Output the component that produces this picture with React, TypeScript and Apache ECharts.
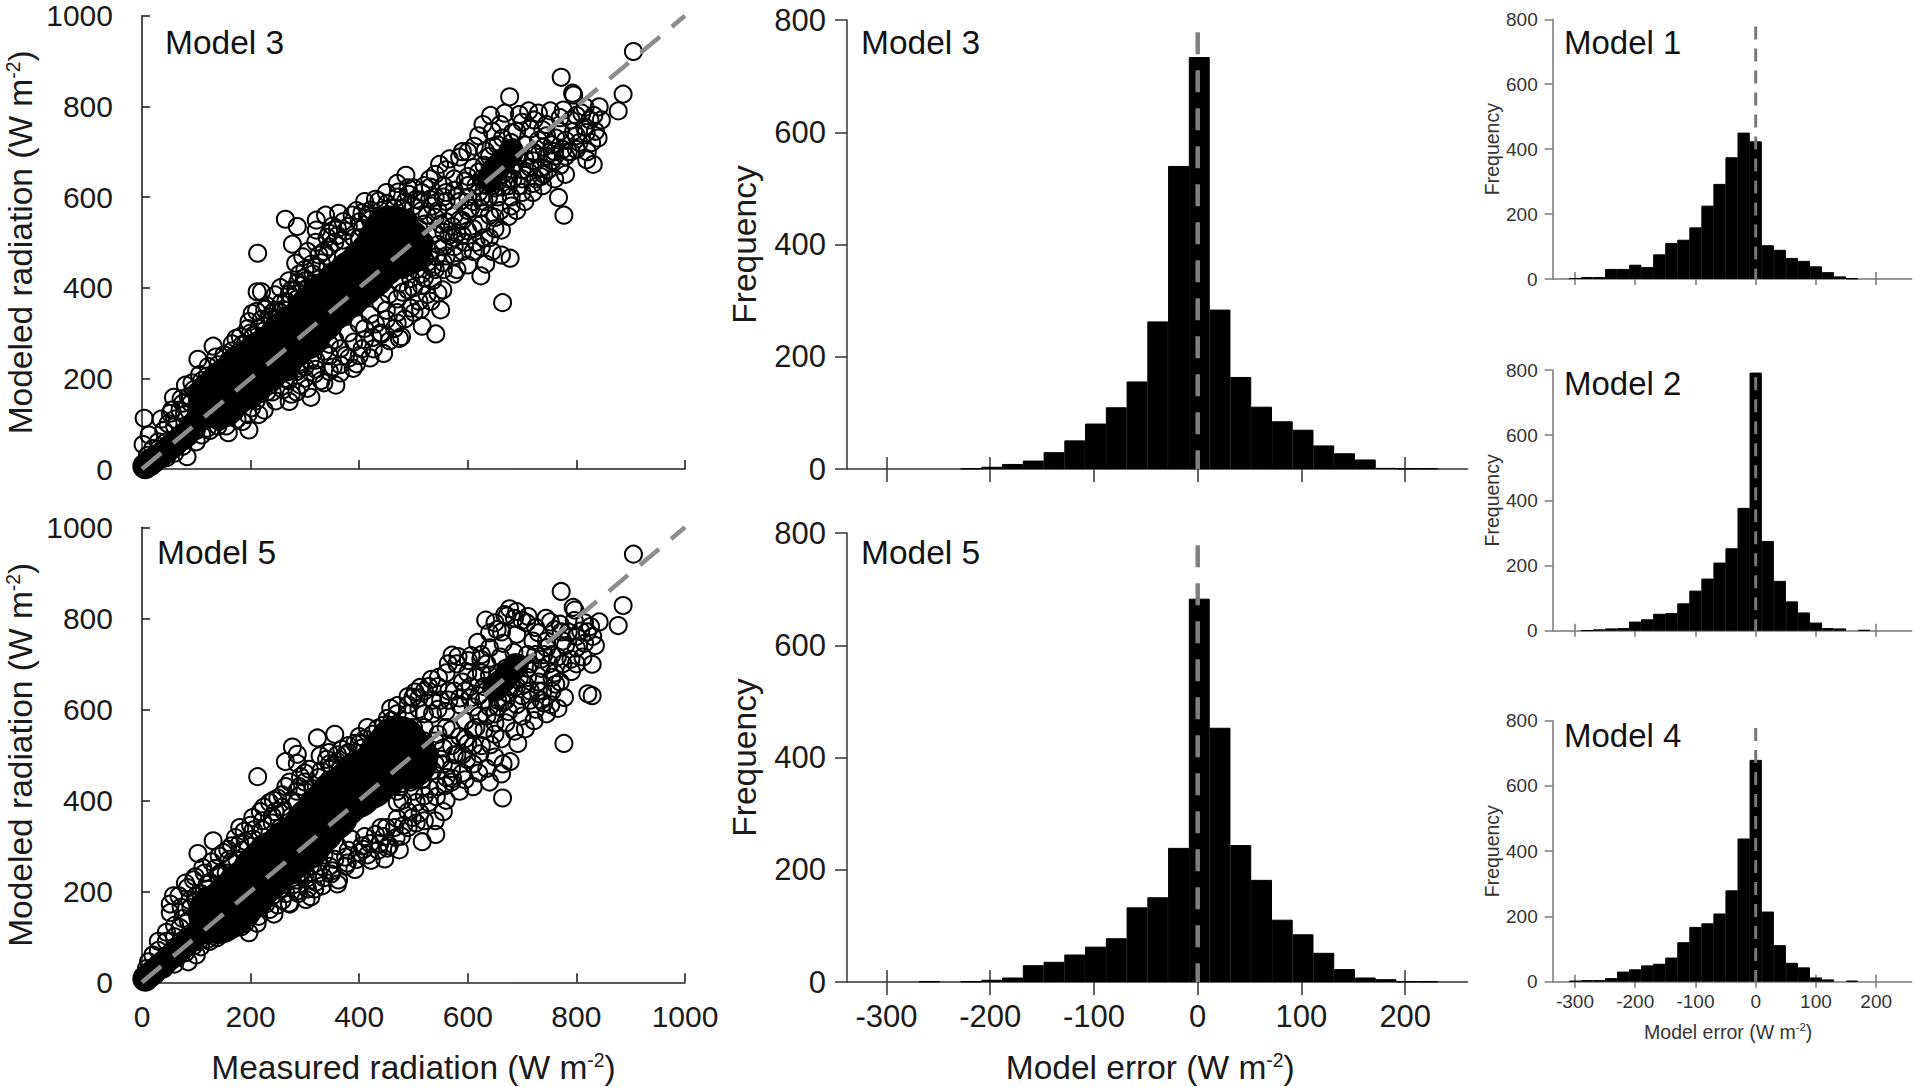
import React, { useEffect, useRef } from "react";
import * as echarts from "echarts";

const binCenters = [-300,-280,-260,-240,-220,-200,-180,-160,-140,-120,-100,-80,-60,-40,-20,0,20,40,60,80,100,120,140,160,180,200,220];
const freqModel3 = [0,0,0,0,1,4,9,15,30,51,81,110,156,263,540,734,284,164,111,85,70,42,28,17,2,1,1];
const freqModel5 = [0,0,1,0,1,4,8,30,36,49,63,78,133,151,239,683,453,244,182,111,85,52,23,8,5,1,1];
const freqModel1 = [3,6,6,31,31,44,37,76,111,121,159,226,293,375,451,424,104,90,65,56,39,21,8,2,0,0,0];
const freqModel2 = [0,1,4,7,8,28,35,52,54,84,123,160,209,253,377,792,275,153,90,56,25,8,7,0,2,0,0];
const freqModel4 = [3,5,5,11,31,38,50,55,74,121,168,179,209,280,439,680,215,112,58,44,13,7,0,3,0,0,0];
const errorTicks = [-300,-200,-100,0,100,200];
const oneToOne = [[0,0],[1000,1000]];
const zeroLine = [[0,778],[0,0]];

const scatterModel3 = [
[905,921],[772,864],[677,821],[795,825],[793,829],[886,827],[877,790],[842,799],[816,798],[831,672],[819,682],[777,560],[767,599],[664,367],[678,465],[662,472],[633,452],[624,426],[675,557],[662,527],[541,298],[516,315],[550,351],[554,395],[580,440],[486,648],[264,551],[286,535],[277,496],[213,476],[321,549],[338,560],[362,564],[387,560],[321,527],[283,454],[296,468],[103,242],[131,271],[4,112],[13,75],[2,54],[58,158],[52,123],[80,185],[83,27],[197,86],[159,80],[311,158],[357,185],[271,149],[389,222],[445,255],[478,292],[474,288],[212,391],[220,391],[203,343],[195,310],[173,288],[245,384],[283,395],
[810,785],[825,770],[835,745],[828,720],[805,720],[790,700],[770,745],[752,790],[730,785],[712,790],[695,782],[668,785],[642,780],[628,760],[620,735],[645,745],[660,760],[690,745],[715,750],[745,760],[770,775],[790,770],[815,755],[800,735],[780,725],[755,715],[730,725],[705,715],[680,720],[655,715],[640,690],[600,700],[585,688],[560,660],[540,650],[530,640],[555,625],[575,640],[610,665],[630,670],[660,680],[690,690],[720,680],[745,690],[770,670],[780,650],[760,640],[738,625],[720,610],[700,640],[675,640],[650,650],[625,640],[600,625],[580,600],[560,590],[540,600],[515,610],[490,620],[470,600],[450,610],[430,595],[410,590],[395,570],[415,560],[440,570],[465,575],[500,580],[525,560],[550,540],[575,560],[600,570],[630,590],[655,600],[680,600],[705,590],[690,570],[650,555],[625,540],[600,525],[575,510],[555,490],[530,480],[510,460],[540,440],[560,470],[590,480],[615,500],[640,510],[645,480],[600,450],[575,430],[535,415],[515,405],[495,420],[490,395],[470,375],[495,355],[510,370],[525,385],[470,345],[450,330],[465,310],[440,300],[425,290],[405,265],[420,245],[400,250],[375,250],[365,230],[345,215],[330,195],[345,250],[320,220],[300,200],[285,170],[270,195],[255,210],[240,170],[225,130],[210,150],[195,120],[175,110],[160,115],[140,95],[120,90],[100,60],[85,70],[60,35],[45,25],
[95,175],[85,160],[110,195],[120,205],[140,230],[150,225],[165,260],[185,275],[215,310],[235,335],[250,350],[265,370],[260,335],[240,305],[290,430],[305,480],[320,500],[345,520],[360,530],[380,535],[400,545],[420,550],[300,440],[315,410],[335,480],[355,500],[230,360],[255,400],[270,415],[245,350],[205,265],[190,240],[175,225],[150,190],[130,175],[115,150],[70,130],[60,95],[40,85],[30,60],[20,45],[10,30],[35,110],[75,145],[390,510],[430,535],[460,555],[485,590],[505,595],[520,625],[470,630],[520,540],[545,570],[585,590],[650,620],[700,660],[735,665],[760,690],[785,700],[800,705],[820,700],[840,730],
[110,75],[125,85],[142,105],[155,95],[170,125],[185,105],[202,135],[215,120],[230,170],[246,150],[260,175],[275,165],[292,185],[305,178],[318,210],[335,190],[352,225],[365,212],[381,245],[395,232],[410,285],[426,265],[441,297],[456,283],[470,322],[484,331],[501,345],[513,352],[532,370],[545,388],[520,422],[542,468],[556,522],[572,535],[590,548],[610,590],[622,575],[638,600],[664,622],[683,640],[712,655],[725,640],[748,660],
[55,130],[72,155],[92,190],[106,208],[122,226],[136,247],[151,252],[166,276],[181,292],[197,325],[211,348],[226,352],[241,346],[256,366],[271,386],[287,412],[299,421],[312,452],[326,472],[341,511],[351,536],[371,546],[406,531],[421,571],[436,591],[451,586],[472,611],[491,606],[511,592],[531,622],[548,672],[566,684],[590,700],[612,712],[632,702],[648,712],[664,730],[682,742],[700,765],[722,770],[738,748],[762,730],[776,792],[800,780],[818,742],[832,780],[846,770],
[480,440],[500,480],[520,500],[540,520],[560,545],[580,520],[600,600],[620,610],[640,560],[660,570],[680,580],[700,610],[720,630],[740,650],[555,440],[575,470],[595,500],[610,530],[630,510],[650,530],[540,555],[510,530],[490,550],[470,540],[480,390],[500,400],[450,350],[430,320],[410,310],[390,280],[365,265],[345,275],[320,240],[300,225],[285,215],[265,200],[245,195],[230,200],[215,165],[195,155],[180,140],[160,135],[140,130],[120,110],[100,85],[75,50],[60,65],[45,60],[25,30],[15,25],
[500,620],[480,575],[450,560],[420,520],[400,510],[370,505],[340,470],[320,445],[305,400],[285,375],[265,350],[250,320],[225,305],[205,295],[190,275],[170,250],[150,215],[130,200],[110,170],[90,145],[78,120],[60,110],[48,100],[530,595],[560,610],[600,645],[620,655],[660,660],[680,660],[720,700],[740,710],[760,700],[780,690],
[505,440],[525,455],[545,495],[565,515],[585,550],[605,575],[625,600],[645,625],[665,650],[685,670],[705,685],[725,695],[745,735],[520,465],[500,505],[515,570],[535,580],[555,600],[575,615],[595,635],[615,625],[635,625],[655,635],[675,625],[695,625],[715,665],[735,645],[755,680],[775,705],[795,745],[515,430],[535,445],[555,455],[575,490],[590,515],[610,480],[625,490],[490,470],[475,410],[455,385],[440,365],[420,340],[400,320],[380,300],[355,285],[335,260],[310,240],[290,230],[270,215],[250,205],[235,185],[215,180],[200,165],[185,165],[165,150],[145,145],[125,135],[105,120],
[300,415],[315,430],[330,455],[345,490],[360,515],[375,525],[405,565],[425,530],[445,545],[200,300],[220,330],[240,330],[255,345],[275,395],[295,405],[180,260],[160,240],[140,215],[120,190],[100,170]
];
const denseSmallModel3 = [[6,6],[14,12],[22,20],[32,28],[42,38],[52,48],[62,58],[72,68],[82,78],[92,92],[104,108],[115,118],[640,640],[650,660],[665,680],[680,700]];
const denseLargeModel3 = [[140,155],[160,178],[180,195],[200,215],[225,240],[245,255],[270,285],[295,305],[320,340],[345,370],[370,395],[395,420],[415,440],[435,465],[450,495],[460,515],[480,490]];

const scatterModel5 = [
[905,941],[772,859],[677,821],[668,808],[794,824],[797,818],[886,828],[877,784],[842,792],[829,630],[821,634],[777,525],[766,602],[664,405],[662,458],[678,485],[692,525],[541,325],[516,309],[478,321],[474,291],[447,271],[360,216],[311,188],[271,174],[197,109],[103,283],[131,311],[213,452],[264,485],[277,517],[286,481],[286,501],[323,537],[355,545],[415,560],[458,602],[58,190],[52,153],[80,218],[503,638],[499,626],[533,666],[571,719],[601,707],[633,796],[618,747],[711,804],[744,800],[770,787],[829,699],[812,715],[791,683],[778,626],[753,610],[740,614],[706,557],
[650,790],[662,770],[690,815],[700,795],[725,780],[760,775],[785,770],[815,790],[830,760],[815,745],[800,735],[775,750],[745,750],[720,750],[690,765],[665,745],[640,735],[625,720],[635,700],[660,715],[685,725],[710,720],[740,720],[765,715],[790,710],[760,680],[735,690],[710,690],[680,695],[655,680],[625,680],[600,680],[580,700],[560,680],[545,650],[520,640],[550,620],[575,640],[605,650],[630,650],[655,645],[680,650],[705,655],[730,640],[715,620],[690,610],[665,615],[640,605],[610,605],[585,610],[560,595],[535,590],[510,600],[490,610],[470,590],[445,565],[425,545],[400,540],[380,520],[360,500],[340,490],[300,460],[285,420],[265,430],[250,405],[235,395],[218,375],[245,375],[200,345],[180,340],[190,310],[165,300],[150,285],[135,250],[115,240],[95,225],[120,205],[100,190],
[520,560],[545,545],[570,555],[595,575],[620,585],[650,590],[670,570],[650,545],[625,520],[600,525],[580,500],[610,480],[635,470],[650,495],[665,480],[640,440],[610,430],[585,420],[560,400],[555,375],[540,355],[520,355],[505,350],[490,340],[470,360],[455,300],[435,290],[415,280],[395,270],[375,255],[350,245],[335,230],[320,220],[305,205],[285,200],[265,195],[250,170],[235,160],[215,145],[190,130],[175,125],[150,115],[125,90],[100,60],[85,45],[60,40],[40,30],
[225,305],[255,340],[275,365],[310,395],[330,420],[345,445],[365,470],[385,480],[215,245],[200,195],[240,210],[265,240],[290,240],[310,255],[335,280],[360,300],[385,315],[410,320],[440,340],[470,395],[500,420],[530,425],[560,450],[590,460],[555,515],[525,510],[500,490],[485,520],[510,530],[480,560],[540,480],[570,470],[585,540],[610,555],[175,270],[155,240],[140,205],[125,175],[105,155],[85,135],[70,120],[60,100],[45,90],[30,70],[20,60],[12,45],[8,30],[72,165],[88,180],[595,640],[620,630],[655,620],[685,680],[700,630],[675,595],[700,585],[725,600],[745,590],[755,640],[770,660],[750,700],[800,760],[820,770],[835,740],
[108,78],[122,95],[138,98],[152,112],[168,135],[183,122],[198,145],[212,130],[228,172],[243,150],[258,180],[272,172],[288,195],[302,182],[318,205],[332,212],[348,238],[362,225],[378,262],[392,248],[408,292],[422,268],[438,305],[452,295],[468,318],[482,345],[498,362],[512,372],[528,395],[542,408],[558,432],[572,448],[598,490],[622,502],[642,522],[662,535],[686,552],[722,575],[738,640],[762,655],
[52,172],[68,190],[84,208],[98,232],[112,252],[128,265],[142,278],[158,292],[172,318],[188,332],[204,362],[224,385],[242,400],[258,412],[272,440],[292,452],[308,468],[328,498],[344,505],[368,512],[392,525],[410,535],[434,558],[452,580],[470,608],[490,628],[512,648],[528,650],[546,670],[564,700],[582,716],[606,718],[624,710],[640,768],[654,775],[672,805],[686,800],[708,790],[730,768],[752,792],[772,770],[796,795],[808,772],[826,782],
[450,340],[470,420],[490,450],[510,470],[530,500],[550,490],[570,520],[590,500],[610,520],[630,555],[650,570],[670,620],[690,650],[710,670],[730,660],[560,560],[540,530],[520,530],[500,560],[470,550],[480,400],[505,395],[430,325],[405,300],[380,290],[355,270],[330,255],[305,230],[285,225],[260,215],[240,190],[225,180],[205,170],[185,150],[165,150],[145,135],[125,110],[105,90],[80,65],[65,55],[48,50],[32,40],[22,30],[14,22],
[510,625],[490,590],[460,575],[430,530],[405,515],[375,500],[350,475],[325,450],[300,420],[285,395],[262,375],[240,350],[222,335],[205,315],[185,290],[165,265],[145,240],[125,220],[108,195],[90,165],[75,140],[60,125],[45,110],[30,90],[535,620],[565,640],[590,660],[615,670],[640,675],[670,690],[695,700],[725,720],[745,735],[780,740],[800,700],
[515,445],[535,465],[555,480],[575,500],[595,535],[615,560],[635,585],[655,605],[675,635],[695,670],[715,700],[735,710],[755,720],[520,590],[545,600],[565,620],[585,625],[605,625],[630,620],[650,660],[670,660],[715,640],[735,620],[755,670],[775,700],[495,440],[475,430],[520,410],[545,430],[570,440],[595,445],[620,460],[490,375],[465,340],[445,320],[420,305],[400,285],[375,275],[345,255],[325,240],[300,235],[280,215],[255,205],[235,195],[215,185],[195,175],[175,145],[155,130],[135,120],[115,105],[95,80],
[300,440],[315,425],[330,465],[345,480],[360,485],[380,505],[400,525],[420,510],[445,530],[205,335],[222,355],[240,365],[258,385],[275,400],[290,430],[180,305],[160,270],[140,235],[120,215],[100,180]
];
const denseSmallModel5 = [[6,8],[14,16],[22,24],[32,34],[42,44],[52,55],[62,65],[72,75],[82,85],[92,95],[104,108],[115,118],[650,645],[662,660],[676,680],[688,695]];
const denseLargeModel5 = [[140,150],[155,160],[172,178],[195,205],[220,238],[245,268],[270,288],[295,310],[320,345],[345,375],[365,405],[390,425],[415,445],[440,470],[458,500],[472,520],[490,490]];

const scatterGrids = [
  { left: 142, top: 15.7, width: 543, height: 453.3 },
  { left: 142, top: 527.3, width: 543, height: 455 },
];
const midGrids = [
  { left: 847, top: 20, width: 620.5, height: 449 },
  { left: 847, top: 533, width: 620.5, height: 449 },
];
const rightGrids = [
  { left: 1552.7, top: 19.3, width: 359, height: 259.7 },
  { left: 1552.7, top: 370, width: 359, height: 260.7 },
  { left: 1552.7, top: 720.7, width: 359, height: 261 },
];
const FONT = '"Liberation Sans", Arial, sans-serif';
const richSup = (size: number, color: string) => ({ sup: { fontSize: size, verticalAlign: "top", color, fontFamily: FONT, lineHeight: size * 1.1, padding: [0, 0, size * 0.8, 0] } });

export default function App() {
  const ref = useRef<HTMLDivElement>(null);
  useEffect(() => {
    document.body.style.margin = "0";
    const chart = echarts.init(ref.current!, null, { renderer: "svg" });
    const grid: any[] = [];
    const xAxis: any[] = [];
    const yAxis: any[] = [];
    const series: any[] = [];

    const addAxes = (g: any, opts: any) => {
      const i = grid.length;
      grid.push(g);
      const lineStyle = { color: opts.axisColor, width: opts.axisWidth };
      const base = { type: "value", gridIndex: i, min: opts.xMin, max: opts.xMax, position: "bottom", splitLine: { show: false } };
      const labelCommon = { fontFamily: FONT, fontSize: opts.font, color: opts.textColor };
      const tickCustom = opts.xTicks ? { customValues: opts.xTicks } : {};
      xAxis.push({
        ...base,
        interval: opts.xInterval,
        axisLine: { show: true, onZero: false, lineStyle },
        axisTick: opts.xOuter ? { show: true, length: opts.xOuter, lineStyle, ...tickCustom } : { show: false },
        axisLabel: opts.showX
          ? { show: true, margin: opts.labelMargin, ...labelCommon, formatter: (v: number) => String(v), ...(opts.xTicks ? { customValues: opts.xTicks } : {}), hideOverlap: false, showMinLabel: true, showMaxLabel: true }
          : { show: false },
        name: opts.xName || "",
        nameLocation: "middle",
        nameGap: opts.xNameGap,
        nameTextStyle: { ...labelCommon, fontSize: opts.nameFont, padding: opts.xNamePad || 0, rich: richSup(opts.nameFont * 0.58, opts.textColor) },
      });
      xAxis.push({
        ...base,
        interval: opts.xInterval,
        axisLine: { show: false },
        axisLabel: { show: false },
        axisTick: { show: true, inside: true, length: opts.xInner, lineStyle, ...tickCustom },
      });
      yAxis.push({
        type: "value",
        gridIndex: i,
        min: 0,
        max: opts.yMax,
        interval: opts.yInterval,
        splitLine: { show: false },
        axisLine: { show: true, onZero: false, lineStyle },
        axisTick: { show: true, inside: !!opts.yTickInside, length: opts.yTick, lineStyle },
        axisLabel: { margin: opts.yLabelMargin, formatter: (v: number) => String(v), ...labelCommon },
        name: opts.yName,
        nameLocation: "middle",
        nameGap: opts.yNameGap,
        nameTextStyle: { ...labelCommon, fontSize: opts.nameFont, rich: richSup(opts.nameFont * 0.58, opts.textColor) },
      });
      return i * 2;
    };

    const addScatter = (g: any, pts: number[][], small: number[][], large: number[][], showX: boolean) => {
      const xi = addAxes(g, {
        xMin: 0, xMax: 1000, xInterval: 200, yMax: 1000, yInterval: 200,
        axisColor: "#222", axisWidth: 1.6, textColor: "#1a1a1a",
        font: 30, nameFont: 33.5, xOuter: 0, xInner: 9, yTick: 8, yTickInside: true, yLabelMargin: 29,
        showX, labelMargin: 19,
        xName: showX ? "Measured radiation (W m{sup|-2})" : "", xNameGap: 68,
        yName: "Modeled radiation (W m{sup|-2})", yNameGap: 105,
      });
      const yi = xi / 2;
      const common = { xAxisIndex: xi, yAxisIndex: yi, silent: true };
      series.push({ ...common, type: "scatter", data: pts, symbol: "circle", symbolSize: 17, clip: false, itemStyle: { color: "transparent", borderColor: "#000", borderWidth: 2, opacity: 1 }, z: 3 });
      series.push({ ...common, type: "scatter", data: small, symbol: "circle", symbolSize: 26, clip: false, itemStyle: { color: "#000", opacity: 1 }, z: 3 });
      series.push({ ...common, type: "scatter", data: large, symbol: "circle", symbolSize: 60, clip: false, itemStyle: { color: "#000", opacity: 1 }, z: 3 });
      series.push({ ...common, type: "line", data: oneToOne, symbol: "none", lineStyle: { color: "#8c8c8c", width: 4.5, type: [25, 15.6] }, z: 5 });
    };

    const addHist = (g: any, freq: number[], o: any) => {
      const xi = addAxes(g, {
        xMin: o.xMin, xMax: o.xMax, yMax: 800, yInterval: 200, xTicks: errorTicks,
        axisColor: o.axisColor, axisWidth: o.axisWidth, textColor: o.textColor,
        font: o.font, nameFont: o.nameFont, xOuter: o.xOuter, xInner: o.xInner, yTick: o.yTick,
        yLabelMargin: o.yLabelMargin, showX: o.showX, labelMargin: o.labelMargin,
        xName: o.showX ? "Model error (W m{sup|-2})" : "", xNameGap: o.xNameGap, xNamePad: o.xNamePad,
        yName: "Frequency", yNameGap: o.yNameGap,
      });
      const yi = xi / 2;
      const common = { xAxisIndex: xi, yAxisIndex: yi, silent: true };
      const barData = binCenters.map((c, k) => [c + o.binShift, freq[k]]).filter((d) => d[1] > 0);
      series.push({ ...common, type: "bar", data: barData, barWidth: o.barWidth, itemStyle: { color: "#000", borderColor: "#000", borderWidth: 1 }, z: 3 });
      series.push({ ...common, type: "line", data: zeroLine, symbol: "none", lineStyle: { color: o.dashColor, width: o.dashWidth, type: o.dash }, z: 5 });
    };

    addScatter(scatterGrids[0], scatterModel3, denseSmallModel3, denseLargeModel3, false);
    addScatter(scatterGrids[1], scatterModel5, denseSmallModel5, denseLargeModel5, true);

    const midOpts = {
      xMin: -338, xMax: 260, axisColor: "#333", axisWidth: 1.5, textColor: "#1a1a1a", font: 31, nameFont: 33.5,
      xOuter: 13, xInner: 12, yTick: 12, yLabelMargin: 21, labelMargin: 19, xNameGap: 68, xNamePad: [0, 14, 0, 0],
      yNameGap: 86, binShift: 1.5, barWidth: 20.9, dashColor: "#808080", dashWidth: 4.5, dash: [22, 16],
    };
    addHist(midGrids[0], freqModel3, { ...midOpts, showX: false });
    addHist(midGrids[1], freqModel5, { ...midOpts, showX: true });

    const rightOpts = {
      xMin: -337, xMax: 259, axisColor: "#777", axisWidth: 1.5, textColor: "#333", font: 19, nameFont: 19.5,
      xOuter: 6, xInner: 7, yTick: 8, yLabelMargin: 15, labelMargin: 10, xNameGap: 40, xNamePad: [0, 8, 0, 0],
      yNameGap: 48, binShift: 0, barWidth: 12.3, dashColor: "#777", dashWidth: 3, dash: [13, 9],
    };
    addHist(rightGrids[0], freqModel1, { ...rightOpts, showX: false });
    addHist(rightGrids[1], freqModel2, { ...rightOpts, showX: false });
    addHist(rightGrids[2], freqModel4, { ...rightOpts, showX: true });

    const label = (text: string, x: number, y: number, size: number) => ({
      type: "text", x, y,
      style: { text, fontFamily: FONT, fontSize: size, fill: "#111", verticalAlign: "middle" },
    });

    chart.setOption({
      animation: false,
      backgroundColor: "#fff",
      grid,
      xAxis,
      yAxis,
      series,
      graphic: [
        label("Model 3", 165, 42, 33.5),
        label("Model 5", 157, 552, 33.5),
        label("Model 3", 861, 42, 33.5),
        label("Model 5", 861, 552, 33.5),
        label("Model 1", 1564, 42, 33),
        label("Model 2", 1564, 383, 33),
        label("Model 4", 1564, 735, 33),
      ],
    });
    return () => chart.dispose();
  }, []);
  return <div ref={ref} style={{ position: "absolute", left: 0, top: 0, width: 1920, height: 1087 }} />;
}
